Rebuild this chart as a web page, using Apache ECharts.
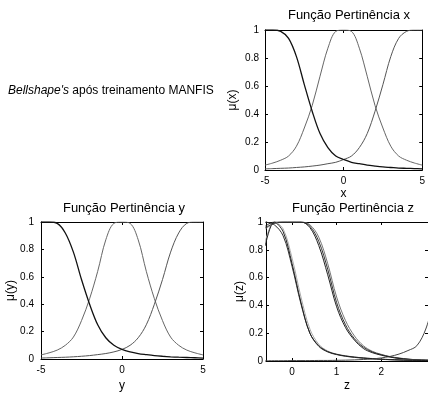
<!DOCTYPE html>
<html>
<head>
<meta charset="utf-8">
<script src="https://cdn.jsdelivr.net/npm/echarts@6/dist/echarts.min.js"></script>
<style>
html, body { margin: 0; padding: 0; background: #fff; }
#chart { width: 428px; height: 393px; }
</style>
</head>
<body>
<div id="chart"></div>
<script>
// pontos (passo 0.5 em x e y, passo 0.2 em z)
const xs = [-5, -4.5, -4, -3.5, -3, -2.5, -2, -1.5, -1, -0.5, 0, 0.5, 1, 1.5, 2, 2.5, 3, 3.5, 4, 4.5, 5]

const muXLeft = [1.0, 1.0, 0.99, 0.94, 0.81, 0.61, 0.42, 0.26, 0.16, 0.10, 0.075, 0.055, 0.045, 0.035, 0.028, 0.022, 0.018, 0.014, 0.012, 0.01, 0.008]
const muXMid = [0.035, 0.05, 0.07, 0.10, 0.17, 0.30, 0.46, 0.67, 0.87, 0.99, 1.0, 0.99, 0.87, 0.67, 0.46, 0.30, 0.17, 0.10, 0.07, 0.05, 0.035]
const muXRight = [0.008, 0.01, 0.012, 0.014, 0.018, 0.022, 0.028, 0.035, 0.045, 0.055, 0.075, 0.10, 0.16, 0.26, 0.42, 0.61, 0.81, 0.94, 0.99, 1.0, 1.0]

const muYLeft = [1.0, 1.0, 0.99, 0.92, 0.78, 0.58, 0.40, 0.25, 0.155, 0.10, 0.07, 0.052, 0.04, 0.032, 0.025, 0.02, 0.016, 0.013, 0.011, 0.009, 0.007]
const muYMid = [0.03, 0.045, 0.065, 0.10, 0.16, 0.28, 0.44, 0.64, 0.87, 0.99, 1.0, 0.99, 0.87, 0.64, 0.44, 0.28, 0.16, 0.10, 0.065, 0.045, 0.03]
const muYRight = [0.007, 0.009, 0.011, 0.013, 0.016, 0.02, 0.025, 0.032, 0.04, 0.052, 0.07, 0.10, 0.155, 0.25, 0.40, 0.58, 0.78, 0.92, 0.99, 1.0, 1.0]

const zs = [-0.6, -0.4, -0.2, 0, 0.2, 0.4, 0.6, 0.8, 1.0, 1.2, 1.4, 1.6, 1.8, 2.0, 2.2, 2.4, 2.6, 2.8, 3.0, 3.2]
const muZA = [0.83, 1.0, 0.93, 0.70, 0.42, 0.20, 0.11, 0.068, 0.048, 0.036, 0.028, 0.022, 0.017, 0.013, 0.01, 0.008, 0.006, 0.005, 0.004, 0.003]
const muZB = [0.86, 1.0, 0.95, 0.74, 0.46, 0.23, 0.12, 0.072, 0.05, 0.038, 0.029, 0.023, 0.018, 0.014, 0.011, 0.008, 0.006, 0.005, 0.004, 0.003]
const muZC = [1.0, 0.98, 0.90, 0.68, 0.41, 0.20, 0.105, 0.065, 0.046, 0.034, 0.026, 0.02, 0.015, 0.012, 0.009, 0.007, 0.005, 0.004, 0.003, 0.002]
const muZD = [0.96, 0.99, 1.0, 1.0, 1.0, 0.97, 0.86, 0.66, 0.42, 0.26, 0.16, 0.10, 0.065, 0.045, 0.03, 0.02, 0.013, 0.009, 0.006, 0.005]
const muZE = [0.95, 0.99, 1.0, 1.0, 1.0, 0.98, 0.89, 0.70, 0.46, 0.29, 0.18, 0.11, 0.07, 0.048, 0.032, 0.022, 0.014, 0.009, 0.006, 0.005]
const muZF = [0.97, 1.0, 1.0, 1.0, 1.0, 0.96, 0.83, 0.62, 0.39, 0.24, 0.15, 0.09, 0.06, 0.042, 0.028, 0.018, 0.012, 0.008, 0.006, 0.005]
const muZRight = [0.002, 0.002, 0.002, 0.003, 0.003, 0.003, 0.004, 0.004, 0.005, 0.006, 0.008, 0.011, 0.015, 0.022, 0.033, 0.05, 0.075, 0.11, 0.23, 0.45]

const zTicks = [0, 1, 2]

const FONT = 'Liberation Sans, Arial, sans-serif'

var chart = echarts.init(document.getElementById('chart'))

function line(idx, xv, yv, color, width) {
	return {
		type: 'line',
		xAxisIndex: idx,
		yAxisIndex: idx,
		data: xv.map((x, i) => [x, yv[i]]),
		smooth: 0.35,
		showSymbol: false,
		lineStyle: { color: color, width: width },
		silent: true,
	}
}

function xAx(idx, name, min, max, gap, extra) {
	return Object.assign({
		type: 'value',
		gridIndex: idx,
		min: min,
		max: max,
		name: name,
		nameLocation: 'middle',
		nameGap: gap,
		nameTextStyle: { fontFamily: FONT, fontSize: 12, color: '#000' },
		axisLine: { show: true, onZero: false, lineStyle: { color: '#000', width: 1 } },
		axisTick: { show: true, inside: true, length: 3, lineStyle: { color: '#000' } },
		axisLabel: { fontFamily: FONT, fontSize: 10, color: '#000', margin: 6 },
		splitLine: { show: false },
	}, extra)
}

function yAx(idx, name, gap, margin) {
	return {
		type: 'value',
		gridIndex: idx,
		min: 0,
		max: 1,
		interval: 0.2,
		name: name,
		nameLocation: 'middle',
		nameGap: gap,
		nameTextStyle: { fontFamily: FONT, fontSize: 12, color: '#000' },
		axisLine: { show: true, onZero: false, lineStyle: { color: '#000', width: 1 } },
		axisTick: { show: true, inside: true, length: 3, lineStyle: { color: '#000' } },
		axisLabel: { fontFamily: FONT, fontSize: 10, color: '#000', margin: margin },
		splitLine: { show: false },
	}
}

// eixos espelhados (topo / direita) so com os tracinhos
function mirrorX(idx, min, max, extra) {
	return Object.assign({
		type: 'value', gridIndex: idx, position: 'top', min: min, max: max,
		axisLine: { show: true, onZero: false, lineStyle: { color: '#000', width: 1 } },
		axisTick: { show: true, inside: true, length: 3, lineStyle: { color: '#000' } },
		axisLabel: { show: false },
		splitLine: { show: false },
	}, extra)
}
function mirrorY(idx) {
	return {
		type: 'value', gridIndex: idx, position: 'right', min: 0, max: 1, interval: 0.2,
		axisLine: { show: true, onZero: false, lineStyle: { color: '#000', width: 1 } },
		axisTick: { show: true, inside: true, length: 3, lineStyle: { color: '#000' } },
		axisLabel: { show: false },
		splitLine: { show: false },
	}
}

const zExtra = {
	axisTick: { show: true, inside: true, length: 3, lineStyle: { color: '#000' }, customValues: zTicks },
	axisLabel: { fontFamily: FONT, fontSize: 10, color: '#000', margin: 6, customValues: zTicks },
}
const zMirrorExtra = {
	axisTick: { show: true, inside: true, length: 3, lineStyle: { color: '#000' }, customValues: zTicks },
}

let options = {
	animation: false,
	backgroundColor: '#fff',
	title: [
		{ text: 'Função Pertinência x', left: 349, top: 9, textAlign: 'center', padding: 0,
			textStyle: { fontFamily: FONT, fontSize: 13, fontWeight: 'normal', color: '#000' } },
		{ text: 'Função Pertinência y', left: 124, top: 202, textAlign: 'center', padding: 0,
			textStyle: { fontFamily: FONT, fontSize: 13, fontWeight: 'normal', color: '#000' } },
		{ text: 'Função Pertinência z', left: 353, top: 202, textAlign: 'center', padding: 0,
			textStyle: { fontFamily: FONT, fontSize: 13, fontWeight: 'normal', color: '#000' } },
	],
	graphic: [
		{
			type: 'text',
			left: 8,
			top: 85,
			style: {
				text: '{i|Bellshape\'s} após treinamento MANFIS',
				font: '12px ' + FONT,
				fill: '#000',
				rich: { i: { fontStyle: 'italic', fontFamily: FONT, fontSize: 12, fill: '#000' } },
			},
		},
	],
	grid: [
		{ left: 265, top: 30, width: 166, height: 140 },
		{ left: 41, top: 222, width: 162, height: 139 },
		{ left: 266, top: 222, width: 166, height: 139 },
	],
	xAxis: [
		xAx(0, 'x', -5, 5, 18, { interval: 5 }),
		xAx(1, 'y', -5, 5, 21, { interval: 5 }),
		xAx(2, 'z', -0.585, 3.05, 19, zExtra),
		mirrorX(0, -5, 5, { interval: 5 }),
		mirrorX(1, -5, 5, { interval: 5 }),
		mirrorX(2, -0.585, 3.05, zMirrorExtra),
	],
	yAxis: [
		yAx(0, 'μ(x)', 26, 6),
		yAx(1, 'μ(y)', 19, 7),
		yAx(2, 'μ(z)', 11, 3),
		mirrorY(0),
		mirrorY(1),
		mirrorY(2),
	],
	series: [
		line(0, xs, muXMid, '#666', 1),
		line(0, xs, muXRight, '#555', 1),
		line(0, xs, muXLeft, '#111', 1.3),
		line(1, xs, muYMid, '#666', 1),
		line(1, xs, muYRight, '#555', 1),
		line(1, xs, muYLeft, '#111', 1.3),
		line(2, zs, muZRight, '#444', 1),
		line(2, zs, muZE, '#777', 1),
		line(2, zs, muZD, '#333', 1),
		line(2, zs, muZF, '#222', 1),
		line(2, zs, muZB, '#aaa', 1),
		line(2, zs, muZC, '#333', 1),
		line(2, zs, muZA, '#222', 1),
	],
}
chart.setOption(options, true)
</script>
</body>
</html>
